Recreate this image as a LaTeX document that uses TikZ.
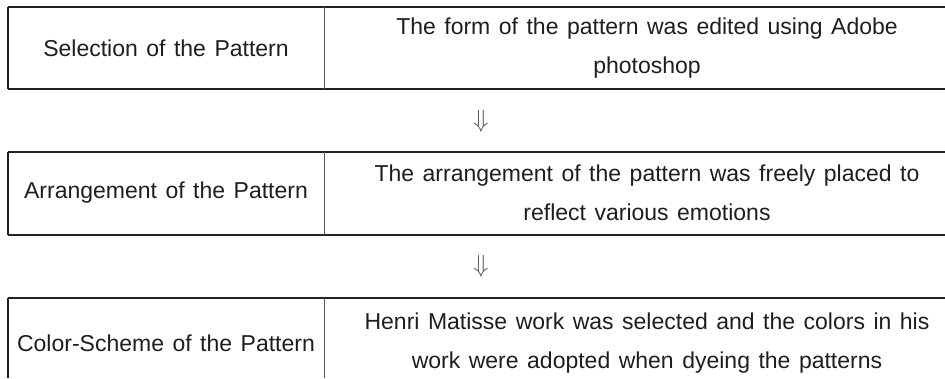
\documentclass[tikz,border=0pt]{standalone}
\usepackage{fontspec}
\setmainfont{Liberation Sans}
\usepackage{xcolor}
\definecolor{linegray}{HTML}{222222}
\definecolor{divgray}{HTML}{555555}
\definecolor{textgray}{HTML}{1E1E1E}

\newcommand{\cellfont}{\fontsize{23}{39}\selectfont\spaceskip=8.5pt\relax}

\tikzset{
    celltext/.style={text=textgray, inner sep=0pt, align=center, font=\cellfont},
    flowarrow/.style={text=divgray, inner sep=0pt, font={\fontsize{29}{29}\selectfont}},
}

\begin{document}
\begin{tikzpicture}[x=1pt, y=-1pt, line width=1.4pt]
        \useasboundingbox (0, 0) rectangle (945, 378);

        % first row
        \draw[linegray] (  8,  7) -- (945,  7); % Top    Line
        \draw[linegray] (  8, 89) -- (945, 89); % Bottom Line
        \draw[linegray] (  8,  7) -- (  8, 89); % Left   Line
        \draw[divgray, line width=1pt] (324, 7) -- (324, 89); % Middle Line

        % second row
        \draw[linegray] (  8, 152) -- (945, 152); % Top    Line
        \draw[linegray] (  8, 235) -- (945, 235); % Bottom Line
        \draw[linegray] (  8, 152) -- (  8, 235); % Left   Line
        \draw[divgray, line width=1pt] (324, 152) -- (324, 235); % Middle Line

        % third row (cut at the bottom)
        \draw[linegray] (  8, 298) -- (945, 298); % Top    Line
        \draw[linegray] (  8, 298) -- (  8, 378); % Left   Line
        \draw[divgray, line width=1pt] (324, 298) -- (324, 378); % Middle Line

        % left column
        \node[celltext] (selection)   at (166,  48) {Selection of the Pattern};
        \node[celltext] (arrangement) at (166, 193) {Arrangement of the Pattern};
        \node[celltext] (colorscheme) at (166, 343) {Color-Scheme of the Pattern};

        % right column
        \node[celltext] (selectiontext)   at (647,  48)
            {The form of the pattern was edited using Adobe\\photoshop};
        \node[celltext] (arrangementtext) at (647, 193)
            {The arrangement of the pattern was freely placed to\\reflect various emotions};
        \node[celltext] (colorschemetext) at (647, 343)
            {Henri Matisse work was selected and the colors in his\\work were adopted when dyeing the patterns};

        % arrows between the rows
        \node[flowarrow] (arrowone) at (481, 121) {$\Downarrow$};
        \node[flowarrow] (arrowtwo) at (481, 266) {$\Downarrow$};
\end{tikzpicture}
\end{document}
